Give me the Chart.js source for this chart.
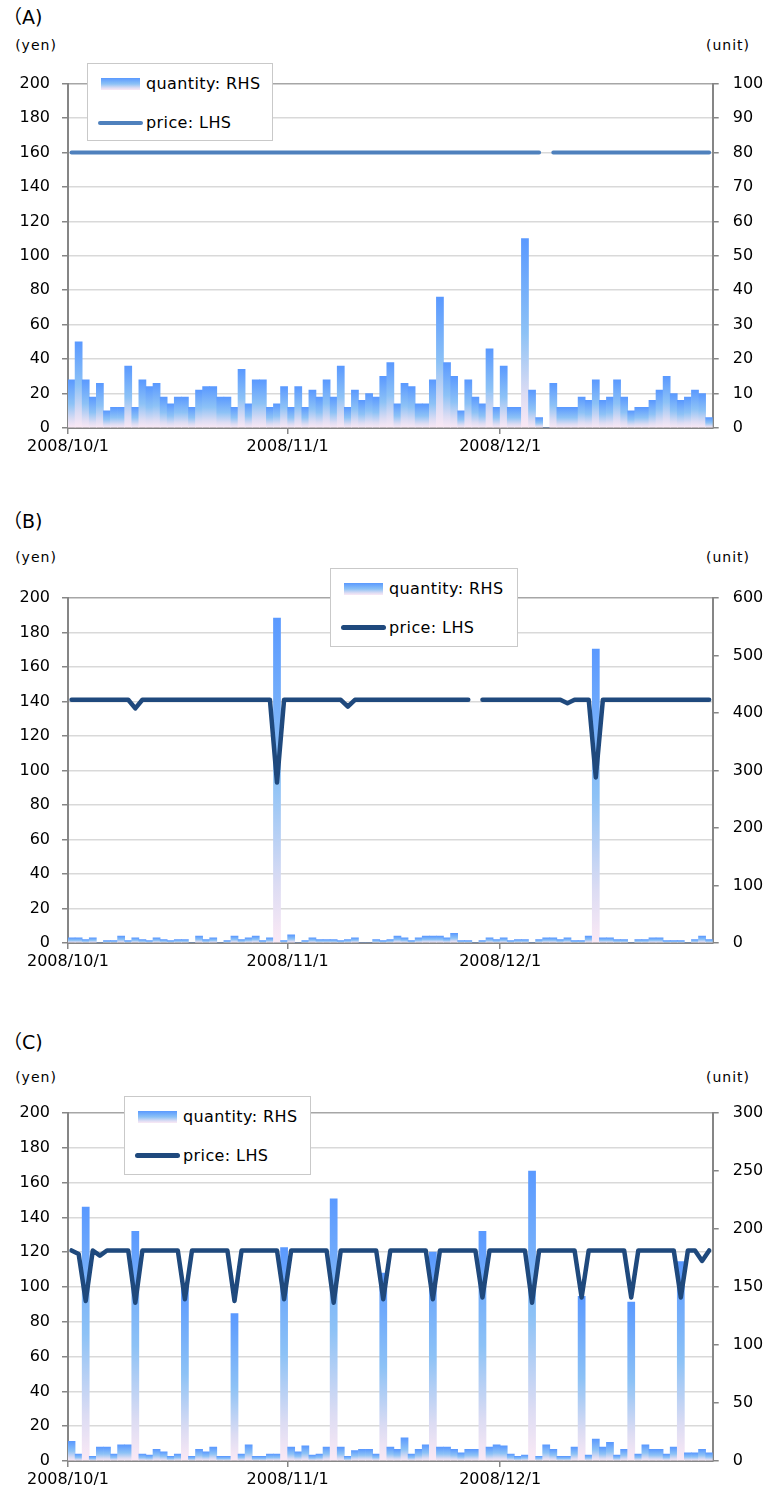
<!DOCTYPE html>
<html>
<head>
<meta charset="utf-8">
<script src="https://cdn.jsdelivr.net/npm/chart.js@4.4.1/dist/chart.umd.min.js"></script>
<style>
  body { margin: 0; background: #fff; }
  #page { position: relative; width: 766px; height: 1503px; overflow: hidden;
          font-family: "DejaVu Sans", "Noto Sans CJK JP", sans-serif; color: #000; }
  .box { position: absolute; left: 0; width: 766px; }
  canvas { display: block; }
  .txt { position: absolute; white-space: nowrap; line-height: 1; }
  .title { font-size: 19px; }
  .unit { font-size: 14px; letter-spacing: 1px; }
  .legend { position: absolute; background: #fff; border: 1px solid #c9c9c9; box-sizing: border-box; }
  .legend .lab { position: absolute; font-size: 16px; letter-spacing: 0.4px; line-height: 1; white-space: nowrap; }
  .legend .sw { position: absolute; }
</style>
</head>
<body>
<div id="page"></div>
<script>
// categories: one per day, 2008/10/1 .. 2008/12/30
const startDate = [2008, 9, 1];
const dayCount = 91;
const tickLabels = ['2008/10/1', '2008/11/1', '2008/12/1'];

const seriesNames = ['quantity: RHS', 'price: LHS'];

// (A)
const quantityA = [
  14, 25, 14, 9, 13, 5, 6, 6, 18, 6,
  14, 12, 13, 9, 7, 9, 9, 6, 11, 12,
  12, 9, 9, 6, 17, 7, 14, 14, 6, 7,
  12, 6, 12, 6, 11, 9, 14, 9, 18, 6,
  11, 8, 10, 9, 15, 19, 7, 13, 12, 7,
  7, 14, 38, 19, 15, 5, 14, 9, 7, 23,
  6, 18, 6, 6, 55, 11, 3, 0, 13, 6,
  6, 6, 9, 8, 14, 8, 9, 14, 9, 5,
  6, 6, 8, 11, 15, 10, 8, 9, 11, 10,
  3
];
const priceA = [
  160, 160, 160, 160, 160, 160, 160, 160, 160, 160,
  160, 160, 160, 160, 160, 160, 160, 160, 160, 160,
  160, 160, 160, 160, 160, 160, 160, 160, 160, 160,
  160, 160, 160, 160, 160, 160, 160, 160, 160, 160,
  160, 160, 160, 160, 160, 160, 160, 160, 160, 160,
  160, 160, 160, 160, 160, 160, 160, 160, 160, 160,
  160, 160, 160, 160, 160, 160, 160, null, 160, 160,
  160, 160, 160, 160, 160, 160, 160, 160, 160, 160,
  160, 160, 160, 160, 160, 160, 160, 160, 160, 160,
  160
];
const yTicksA = [0, 20, 40, 60, 80, 100, 120, 140, 160, 180, 200];
const y2TicksA = [0, 10, 20, 30, 40, 50, 60, 70, 80, 90, 100];

// (B)
const quantityB = [
  9, 9, 6, 9, 0, 4, 4, 12, 4, 9,
  6, 4, 9, 6, 4, 6, 6, 0, 12, 6,
  9, 0, 4, 12, 6, 9, 12, 4, 9, 565,
  4, 14, 0, 4, 9, 6, 6, 6, 4, 6,
  9, 0, 0, 6, 4, 6, 12, 9, 4, 9,
  12, 12, 12, 9, 17, 4, 4, 0, 4, 9,
  6, 9, 4, 6, 6, 0, 6, 9, 9, 6,
  9, 4, 4, 12, 511, 9, 9, 6, 6, 0,
  6, 6, 9, 9, 4, 4, 4, 0, 6, 12,
  6
];
const priceB = [
  141, 141, 141, 141, 141, 141, 141, 141, 141, 136,
  141, 141, 141, 141, 141, 141, 141, 141, 141, 141,
  141, 141, 141, 141, 141, 141, 141, 141, 141, 93,
  141, 141, 141, 141, 141, 141, 141, 141, 141, 137,
  141, 141, 141, 141, 141, 141, 141, 141, 141, 141,
  141, 141, 141, 141, 141, 141, 141, null, 141, 141,
  141, 141, 141, 141, 141, 141, 141, 141, 141, 141,
  139, 141, 141, 141, 96, 141, 141, 141, 141, 141,
  141, 141, 141, 141, 141, 141, 141, 141, 141, 141,
  141
];
const yTicksB = [0, 20, 40, 60, 80, 100, 120, 140, 160, 180, 200];
const y2TicksB = [0, 100, 200, 300, 400, 500, 600];

// (C)
const quantityC = [
  17, 6, 219, 4, 12, 12, 6, 14, 14, 198,
  6, 5, 10, 8, 4, 6, 150, 4, 10, 8,
  12, 4, 4, 127, 6, 14, 4, 4, 6, 6,
  184, 12, 8, 13, 5, 6, 12, 226, 12, 4,
  9, 10, 10, 6, 162, 12, 10, 20, 6, 10,
  14, 180, 12, 12, 10, 7, 10, 10, 198, 12,
  14, 13, 6, 4, 5, 250, 4, 14, 10, 4,
  4, 12, 142, 5, 19, 12, 16, 5, 10, 137,
  6, 14, 10, 10, 6, 12, 172, 7, 7, 10,
  7
];
const priceC = [
  121, 119, 92, 121, 118, 121, 121, 121, 121, 91,
  121, 121, 121, 121, 121, 121, 93, 121, 121, 121,
  121, 121, 121, 92, 121, 121, 121, 121, 121, 121,
  93, 121, 121, 121, 121, 121, 121, 91, 121, 121,
  121, 121, 121, 121, 93, 121, 121, 121, 121, 121,
  121, 93, 121, 121, 121, 121, 121, 121, 94, 121,
  121, 121, 121, 121, 121, 91, 121, 121, 121, 121,
  121, 121, 94, 121, 121, 121, 121, 121, 121, 94,
  121, 121, 121, 121, 121, 121, 94, 121, 121, 115,
  121
];
const yTicksC = [0, 20, 40, 60, 80, 100, 120, 140, 160, 180, 200];
const y2TicksC = [0, 50, 100, 150, 200, 250, 300];

// build category labels
const dates = [];
for (let i = 0; i < dayCount; i++) {
  const d = new Date(Date.UTC(startDate[0], startDate[1], startDate[2] + i));
  dates.push(d.getUTCFullYear() + '/' + (d.getUTCMonth() + 1) + '/' + d.getUTCDate());
}

// layout of each panel (px on the page)
const panels = [
  { name: '（A)', qty: quantityA, price: priceA, yTicks: yTicksA, y2Ticks: y2TicksA,
    titleY: 8, unitY: 38, canvasTop: 60, plotTop: 82, plotBottom: 428,
    lineColor: '#4F81BD', lineWidth: 4, legend: { x: 87, y: 63, w: 186, h: 78 } },
  { name: '（B)', qty: quantityB, price: priceB, yTicks: yTicksB, y2Ticks: y2TicksB,
    titleY: 512, unitY: 550, canvasTop: 570, plotTop: 598, plotBottom: 943,
    lineColor: '#1F497D', lineWidth: 4.5, legend: { x: 330, y: 568, w: 188, h: 79 } },
  { name: '（C)', qty: quantityC, price: priceC, yTicks: yTicksC, y2Ticks: y2TicksC,
    titleY: 1033, unitY: 1070, canvasTop: 1085, plotTop: 1113, plotBottom: 1461,
    lineColor: '#1F497D', lineWidth: 4.5, legend: { x: 124, y: 1096, w: 187, h: 79 } }
];

const W = 766;
const plotLeft = 68;
const plotRight = 712.7;
const xAxisH = 40;
const halfCat = (plotRight - plotLeft) / dayCount / 2;
const axisGray = '#868686';
const gridGray = '#d9d9d9';
const font16 = { family: 'DejaVu Sans', size: 16 };

const page = document.getElementById('page');

function addText(cls, text, x, y, align) {
  const el = document.createElement('div');
  el.className = 'txt ' + cls;
  el.textContent = text;
  el.style.top = y + 'px';
  el.style.left = x + 'px';
  if (align === 'center') el.style.transform = 'translateX(-50%)';
  page.appendChild(el);
}

function barFill(context) {
  const chart = context.chart;
  const area = chart.chartArea;
  if (!area || context.type !== 'data') return '#5E9CFF';
  const scale = chart.scales.y2;
  const top = scale.getPixelForValue(context.raw);
  const bottom = scale.getPixelForValue(0);
  if (!(bottom - top > 1)) return '#5E9CFF';
  const g = chart.ctx.createLinearGradient(0, top, 0, bottom);
  g.addColorStop(0, '#5A99FF');
  g.addColorStop(0.5, '#8DC2F6');
  g.addColorStop(0.82, '#DCDCF3');
  g.addColorStop(1, '#FBE9F5');
  return g;
}

function addLegend(p) {
  const lg = document.createElement('div');
  lg.className = 'legend';
  lg.style.left = p.legend.x + 'px';
  lg.style.top = p.legend.y + 'px';
  lg.style.width = p.legend.w + 'px';
  lg.style.height = p.legend.h + 'px';

  const sw1 = document.createElement('div');
  sw1.className = 'sw';
  sw1.style.cssText = 'left:13px;top:14px;width:39px;height:12px;' +
    'background:linear-gradient(#5A99FF,#8DC2F6 50%,#DCDCF3 82%,#FBE9F5);';
  lg.appendChild(sw1);

  const t1 = document.createElement('div');
  t1.className = 'lab';
  t1.textContent = seriesNames[0];
  t1.style.left = '58px';
  t1.style.top = '12px';
  lg.appendChild(t1);

  const sw2 = document.createElement('div');
  sw2.className = 'sw';
  sw2.style.cssText = 'left:10px;top:' + (58.5 - p.lineWidth / 2) + 'px;width:45px;height:' +
    p.lineWidth + 'px;border-radius:3px;background:' + p.lineColor + ';';
  lg.appendChild(sw2);

  const t2 = document.createElement('div');
  t2.className = 'lab';
  t2.textContent = seriesNames[1];
  t2.style.left = '58px';
  t2.style.top = '51px';
  lg.appendChild(t2);

  page.appendChild(lg);
}

panels.forEach(function (p) {
  addText('title', p.name, 3, p.titleY);
  addText('unit', '(yen)', 36, p.unitY, 'center');
  addText('unit', '(unit)', 728, p.unitY, 'center');

  const h = p.plotBottom + xAxisH - p.canvasTop;
  const wrap = document.createElement('div');
  wrap.className = 'box';
  wrap.style.top = p.canvasTop + 'px';
  wrap.style.height = h + 'px';
  const cv = document.createElement('canvas');
  cv.width = W;
  cv.height = h;
  cv.style.width = W + 'px';
  cv.style.height = h + 'px';
  wrap.appendChild(cv);
  page.appendChild(wrap);

  const yMax = p.yTicks[p.yTicks.length - 1];
  const y2Max = p.y2Ticks[p.y2Ticks.length - 1];

  new Chart(cv.getContext('2d'), {
    type: 'bar',
    data: {
      labels: dates,
      datasets: [
        {
          type: 'line', label: seriesNames[1], data: p.price, yAxisID: 'y', order: 1,
          borderColor: p.lineColor, borderWidth: p.lineWidth, pointRadius: 0,
          tension: 0, spanGaps: false, borderJoinStyle: 'round', borderCapStyle: 'round'
        },
        {
          type: 'bar', label: seriesNames[0], data: p.qty, yAxisID: 'y2', order: 2,
          backgroundColor: barFill, borderWidth: 0,
          barPercentage: 1, categoryPercentage: 1
        }
      ]
    },
    options: {
      responsive: false,
      animation: false,
      devicePixelRatio: 1,
      layout: { padding: { top: p.plotTop - p.canvasTop, left: 0, right: 0, bottom: 0 } },
      plugins: { legend: { display: false }, tooltip: { enabled: false } },
      scales: {
        x: {
          type: 'category',
          offset: true,
          afterFit: function (s) { s.height = xAxisH; },
          border: { color: axisGray, width: 2 },
          grid: {
            offset: true, drawOnChartArea: false, drawTicks: true, tickLength: 6, lineWidth: 1.5,
            color: function (c) {
              return c.tick && tickLabels.indexOf(c.tick.label) >= 0 ? axisGray : 'rgba(0,0,0,0)';
            }
          },
          ticks: {
            autoSkip: false, maxRotation: 0, minRotation: 0, padding: 3,
            labelOffset: -halfCat, color: '#000', font: font16,
            callback: function (v) {
              const l = this.getLabelForValue(v);
              return tickLabels.indexOf(l) >= 0 ? l : '';
            }
          }
        },
        y: {
          position: 'left', min: 0, max: yMax,
          afterFit: function (s) { s.width = plotLeft; },
          afterBuildTicks: function (s) { s.ticks = p.yTicks.map(function (v) { return { value: v }; }); },
          border: { color: axisGray, width: 2 },
          grid: {
            lineWidth: 1.5, tickLength: 6, tickColor: axisGray,
            color: function (c) { return c.tick && c.tick.value === yMax ? '#a6a6a6' : gridGray; }
          },
          ticks: { padding: 12, color: '#000', font: font16 }
        },
        y2: {
          position: 'right', min: 0, max: y2Max,
          afterFit: function (s) { s.width = W - plotRight; },
          afterBuildTicks: function (s) { s.ticks = p.y2Ticks.map(function (v) { return { value: v }; }); },
          border: { color: axisGray, width: 2 },
          grid: { drawOnChartArea: false, tickLength: 6, color: axisGray, lineWidth: 1.5 },
          ticks: { padding: 14, color: '#000', font: font16 }
        }
      }
    }
  });

  addLegend(p);
});
</script>
</body>
</html>
